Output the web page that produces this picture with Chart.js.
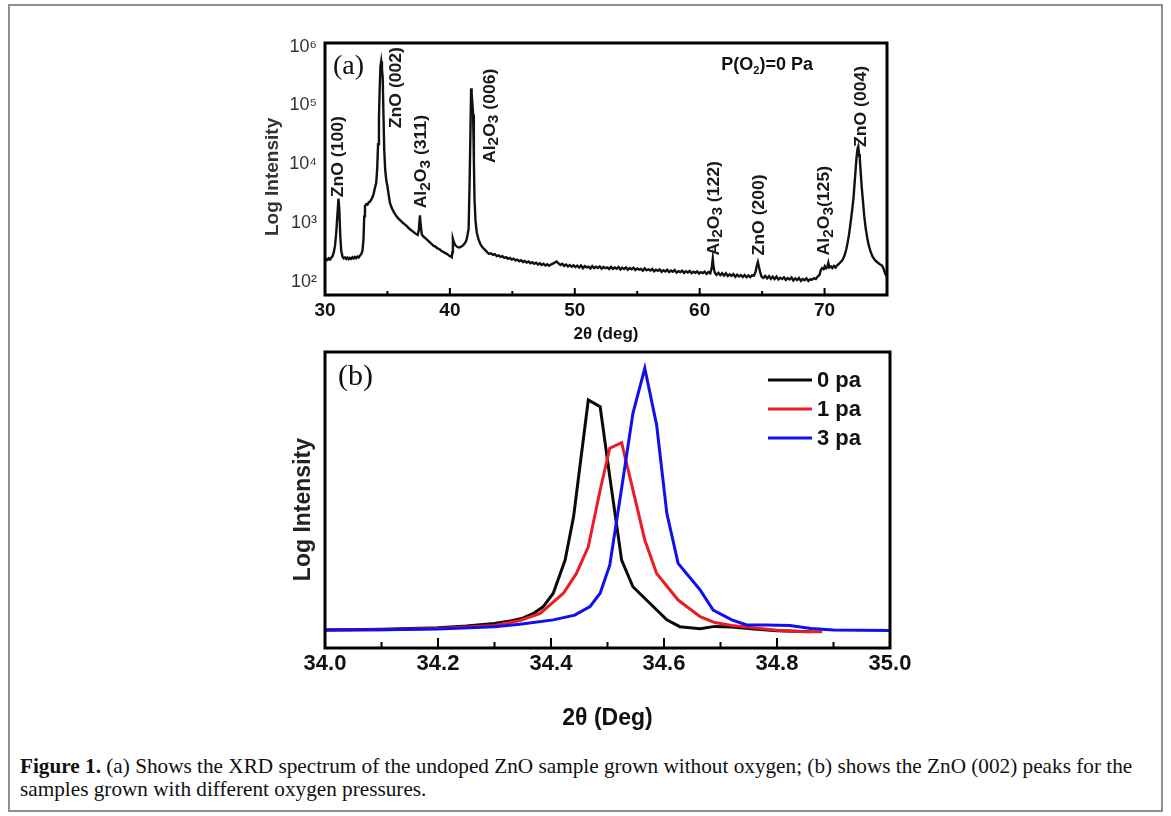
<!DOCTYPE html>
<html><head><meta charset="utf-8">
<script src="https://cdn.jsdelivr.net/npm/chart.js@4.4.1/dist/chart.umd.min.js"></script>
<style>
html,body{margin:0;padding:0;background:#fff;}
body{width:1171px;height:816px;position:relative;overflow:hidden;}
#frame{position:absolute;left:8px;top:4px;width:1155px;height:808px;border:2px solid #8f8f8f;box-sizing:border-box;}
#ca{position:absolute;left:0;top:0;width:1171px;height:347px;}
#cb{position:absolute;left:0;top:347px;width:1171px;height:387px;}
#cap{position:absolute;left:20px;top:754px;font-family:"Liberation Serif",serif;font-size:22px;line-height:23px;color:#111;white-space:nowrap;transform:scaleX(0.965);transform-origin:0 0;}
</style></head>
<body>
<div id="frame"></div>
<canvas id="ca" width="1171" height="347"></canvas>
<canvas id="cb" width="1171" height="387"></canvas>
<div id="cap"><b>Figure 1.</b> (a) Shows the XRD spectrum of the undoped ZnO sample grown without oxygen; (b) shows the ZnO (002) peaks for the<br>samples grown with different oxygen pressures.</div>
<script>
// ---------- Panel (a): XRD spectrum, P(O2)=0 Pa ----------
const twoThetaA = [
30.00,30.10,30.20,30.30,30.40,30.50,30.60,30.70,30.80,30.90,
31.00,31.08,31.15,31.22,31.30,31.40,31.50,31.60,31.70,31.80,
31.90,32.00,32.10,32.20,32.30,32.40,32.50,32.60,32.70,32.80,
32.90,33.00,33.08,33.14,33.20,33.30,33.40,33.50,33.60,33.70,
33.80,33.90,34.00,34.10,34.18,34.25,34.32,34.38,34.44,34.50,
34.56,34.62,34.67,34.74,34.82,34.90,35.00,35.10,35.20,35.35,
35.50,35.65,35.80,35.95,36.10,36.25,36.40,36.55,36.70,36.85,
37.00,37.15,37.30,37.42,37.52,37.60,37.67,37.75,37.85,37.95,
38.10,38.25,38.40,38.55,38.70,38.85,39.00,39.15,39.30,39.45,
39.60,39.75,39.90,40.05,40.15,40.20,40.24,40.32,40.45,40.60,
40.75,40.90,41.05,41.20,41.32,41.42,41.50,41.58,41.64,41.70,
41.74,41.80,41.86,41.92,41.97,42.05,42.15,42.28,42.42,42.56,
42.70,42.85,43.00,43.15,43.30,43.45,43.60,43.75,43.90,44.05,
44.20,44.35,44.50,44.65,44.80,44.95,45.10,45.25,45.40,45.55,
45.70,45.85,46.00,46.15,46.30,46.45,46.60,46.75,46.90,47.05,
47.20,47.35,47.50,47.65,47.80,47.95,48.10,48.25,48.40,48.55,
48.70,48.85,49.00,49.15,49.30,49.45,49.60,49.75,49.90,50.05,
50.20,50.35,50.50,50.65,50.80,50.95,51.10,51.25,51.40,51.55,
51.70,51.85,52.00,52.15,52.30,52.45,52.60,52.75,52.90,53.05,
53.20,53.35,53.50,53.65,53.80,53.95,54.10,54.25,54.40,54.55,
54.70,54.85,55.00,55.15,55.30,55.45,55.60,55.75,55.90,56.05,
56.20,56.35,56.50,56.65,56.80,56.95,57.10,57.25,57.40,57.55,
57.70,57.85,58.00,58.15,58.30,58.45,58.60,58.75,58.90,59.05,
59.20,59.35,59.50,59.65,59.80,59.95,60.10,60.25,60.40,60.55,
60.70,60.85,60.97,61.05,61.12,61.22,61.35,61.50,61.65,61.80,
61.95,62.10,62.25,62.40,62.55,62.70,62.85,63.00,63.15,63.30,
63.45,63.60,63.75,63.90,64.05,64.20,64.35,64.48,64.58,64.66,
64.75,64.85,64.95,65.10,65.25,65.40,65.55,65.70,65.85,66.00,
66.15,66.30,66.45,66.60,66.75,66.90,67.05,67.20,67.35,67.50,
67.65,67.80,67.95,68.10,68.25,68.40,68.55,68.70,68.85,69.00,
69.15,69.30,69.45,69.60,69.70,69.80,69.92,70.02,70.12,70.22,
70.30,70.38,70.50,70.62,70.75,70.88,71.00,71.12,71.25,71.38,
71.50,71.62,71.74,71.85,71.96,72.08,72.20,72.32,72.44,72.56,
72.64,72.70,72.76,72.82,72.90,72.98,73.08,73.18,73.30,73.42,
73.55,73.70,73.85,74.00,74.15,74.30,74.45,74.60,74.72,74.84,
74.95,75.00];
const intensityA = [
232,246,236,252,241,258,272,318,410,690,
1450,2600,1650,620,340,268,252,262,246,259,
243,256,247,262,250,266,254,270,262,281,
296,340,520,1300,1950,2100,2060,2250,2320,2500,
2750,3200,4000,4800,8500,22000,60000,200000,460000,560000,
420000,300000,90000,18000,8000,5500,4200,3000,2200,1800,
1550,1380,1250,1150,1080,1000,950,890,820,770,
730,690,650,630,780,1350,900,640,600,575,
540,505,470,440,410,398,372,362,340,326,
312,300,285,272,262,320,540,470,420,392,
384,398,418,455,510,640,800,5000,30000,195000,
160000,110000,70000,12000,2600,1100,700,540,450,400,
370,345,318,300,306,288,296,276,284,266,
274,256,264,248,256,240,248,232,240,225,
234,219,228,213,222,208,217,203,212,198,
207,194,203,190,200,188,198,205,214,222,
206,194,203,188,198,184,194,181,191,178,
189,176,191,171,186,177,182,169,186,172,
181,173,184,168,180,171,177,166,181,167,
176,168,179,163,174,166,176,161,172,164,
175,160,170,162,167,155,170,158,164,156,
166,152,161,155,163,149,158,151,161,147,
156,149,159,144,153,147,156,142,152,145,
154,141,149,143,151,139,147,141,150,137,
147,140,175,248,172,142,132,143,130,141,
128,140,126,135,127,136,122,133,124,131,
121,131,120,129,121,130,128,150,190,218,
180,145,124,117,127,115,125,113,123,112,
123,110,118,112,120,108,116,110,119,106,
115,108,117,104,112,107,115,104,111,109,
116,112,124,132,160,172,165,185,170,178,
210,176,184,172,188,176,192,200,214,228,
250,290,360,470,640,1000,1600,2700,6000,13000,
18500,20000,15000,12500,7000,4000,2300,1300,800,560,
410,320,268,240,222,210,198,190,170,142,
128,122];
const yTicksA = [1e2, 1e3, 1e4, 1e5, 1e6];
const xMajorA = [30, 40, 50, 60, 70];
const xMinorA = [35, 45, 55, 65];
const peakLabelsA = ['ZnO (100)','ZnO (002)','Al_2O_3 (311)','Al_2O_3 (006)','Al_2O_3 (122)','ZnO (200)','Al_2O_3(125)','ZnO (004)'];
const peakLabelThetaA = [31.12, 35.76, 37.77, 43.25, 61.19, 64.80, 70.02, 72.97];
const peakLabelBaseA = [2750, 41000, 1780, 10500, 282, 282, 282, 19600];

// ---------- Panel (b): ZnO (002) peaks ----------
const seriesLabelsB = ['0 pa', '1 pa', '3 pa'];
const thetaB0 = [34.00,34.10,34.20,34.25,34.30,34.33,34.35,34.37,34.386,34.404,34.425,34.44,34.466,34.487,34.504,34.525,34.545,34.569,34.605,34.628,34.664,34.69,34.72,34.76,34.80,34.86];
const intB0   = [6.1,6.3,6.8,7.4,8.3,9.2,10.1,11.8,13.9,18.5,29.7,44.4,83.8,81.5,57.9,29.7,20.7,16.2,9.5,7.2,6.5,7.3,7.1,6.4,5.8,5.5];
const thetaB1 = [34.00,34.10,34.20,34.30,34.345,34.381,34.422,34.445,34.466,34.487,34.504,34.525,34.545,34.566,34.587,34.625,34.664,34.69,34.72,34.76,34.80,34.84,34.88];
const intB1   = [6.1,6.2,6.6,7.6,9.3,11.7,18.5,25.2,34.2,53.4,67.5,69.4,53.4,36.5,25.2,16.2,10.6,8.6,7.6,6.8,6.0,5.6,5.5];
const thetaB3 = [34.00,34.10,34.20,34.30,34.345,34.404,34.442,34.469,34.487,34.504,34.525,34.545,34.566,34.587,34.605,34.625,34.664,34.687,34.72,34.746,34.78,34.823,34.86,34.90,35.00];
const intB3   = [6.1,6.2,6.4,7.2,8.0,9.5,11.1,14.0,18.5,28.0,54.0,79.3,94.5,75.3,45.5,28.6,19.6,12.8,9.5,7.8,7.8,7.6,6.6,6.1,5.9];
const colorsB = ['#0a0a0a', '#ec1c24', '#1010ee'];
const xMajorB = [34.0, 34.2, 34.4, 34.6, 34.8, 35.0];
const xMinorB = [34.1, 34.3, 34.5, 34.7, 34.9];

const SANS = '"Liberation Sans", Arial, sans-serif';
const SERIF = '"Liberation Serif", "Times New Roman", serif';
const SUP = {'0':'\u2070','1':'\u00B9','2':'\u00B2','3':'\u00B3','4':'\u2074','5':'\u2075','6':'\u2076','7':'\u2077','8':'\u2078','9':'\u2079'};

// frame + inward ticks
const framePlugin = {
  id: 'frameTicks',
  afterDraw(chart, args, opts) {
    const {ctx, chartArea: a} = chart;
    const xs = chart.scales.x;
    ctx.save();
    ctx.strokeStyle = '#000';
    ctx.lineWidth = 2;
    ctx.beginPath();
    (opts.major || []).forEach(v => { const p = xs.getPixelForValue(v); ctx.moveTo(p, a.bottom); ctx.lineTo(p, a.bottom - opts.majorLen); });
    (opts.minor || []).forEach(v => { const p = xs.getPixelForValue(v); ctx.moveTo(p, a.bottom); ctx.lineTo(p, a.bottom - opts.minorLen); });
    ctx.stroke();
    ctx.lineWidth = 3;
    ctx.strokeRect(a.left, a.top, a.right - a.left, a.bottom - a.top);
    if (opts.panel) {
      ctx.fillStyle = '#111';
      ctx.font = opts.panelFont;
      ctx.textBaseline = 'middle';
      ctx.textAlign = 'left';
      ctx.fillText(opts.panel, a.left + opts.panelDx, a.top + opts.panelDy);
    }
    ctx.restore();
  }
};

function drawRich(ctx, text, size, subSize, subShift) {
  const parts = [];
  for (let i = 0; i < text.length; i++) {
    if (text[i] === '_' && i + 1 < text.length) { parts.push({t: text[i+1], sub: true}); i++; }
    else { if (parts.length && !parts[parts.length-1].sub) parts[parts.length-1].t += text[i]; else parts.push({t: text[i], sub: false}); }
  }
  let cx = 0;
  parts.forEach(p => {
    ctx.font = 'bold ' + (p.sub ? subSize : size) + 'px ' + SANS;
    ctx.fillText(p.t, cx, p.sub ? subShift : 0);
    cx += ctx.measureText(p.t).width;
  });
}

const peakLabelPlugin = {
  id: 'peakLabels',
  afterDatasetsDraw(chart) {
    const {ctx} = chart;
    const xs = chart.scales.x, ys = chart.scales.y;
    ctx.save();
    ctx.fillStyle = '#1a1a1a';
    ctx.textBaseline = 'middle';
    ctx.textAlign = 'left';
    peakLabelsA.forEach((t, i) => {
      ctx.save();
      ctx.translate(xs.getPixelForValue(peakLabelThetaA[i]), ys.getPixelForValue(peakLabelBaseA[i]));
      ctx.rotate(-Math.PI / 2);
      ctx.scale(1.1, 1);
      drawRich(ctx, t, 16, 14, 4);
      ctx.restore();
    });
    // P(O2)=0 Pa
    ctx.save();
    ctx.translate(xs.getPixelForValue(61.73), ys.getPixelForValue(480000));
    ctx.fillStyle = '#111';
    drawRich(ctx, 'P(O_2)=0 Pa', 18, 11, 6);
    ctx.restore();
    ctx.restore();
  }
};

const legendPluginB = {
  id: 'legendB',
  afterDraw(chart) {
    const {ctx, chartArea: a} = chart;
    ctx.save();
    ctx.font = 'bold 22px ' + SANS;
    ctx.textBaseline = 'middle';
    ctx.textAlign = 'left';
    chart.data.datasets.forEach((ds, i) => {
      const y = a.top + 28 + i * 29;
      ctx.strokeStyle = ds.borderColor;
      ctx.lineWidth = 3;
      ctx.beginPath();
      ctx.moveTo(a.right - 122, y); ctx.lineTo(a.right - 78, y);
      ctx.stroke();
      ctx.fillStyle = '#111';
      ctx.fillText(ds.label, a.right - 73, y + 1);
    });
    ctx.restore();
  }
};

new Chart(document.getElementById('ca'), {
  type: 'line',
  data: { datasets: [{
    label: 'P(O2)=0 Pa',
    data: twoThetaA.map((x, i) => ({x: x, y: intensityA[i]})),
    borderColor: '#111', borderWidth: 2.4, pointRadius: 0, tension: 0, fill: false
  }]},
  options: {
    responsive: false, animation: false,
    layout: { padding: { left: 255, right: 284, top: 43, bottom: 0 } },
    plugins: {
      legend: { display: false }, tooltip: { enabled: false },
      frameTicks: { major: xMajorA, minor: xMinorA, majorLen: 7, minorLen: 4, panel: '(a)', panelFont: '28px ' + SERIF, panelDx: 8, panelDy: 24 }
    },
    scales: {
      x: {
        type: 'linear', min: 30, max: 75,
        grid: { display: false, drawTicks: false }, border: { display: false },
        ticks: { stepSize: 10, includeBounds: false, padding: 4, maxRotation: 0, color: '#111', font: { family: SANS, size: 19, weight: 'bold' } },
        title: { display: true, text: '2\u03B8 (deg)', color: '#111', font: { family: SANS, size: 17, weight: 'bold' }, padding: { top: 0, bottom: 2 } },
        afterFit(s) { s.height = 52; }
      },
      y: {
        type: 'logarithmic', min: 60, max: 1150000,
        grid: { display: false, drawTicks: false }, border: { display: false },
        afterBuildTicks(s) { s.ticks = yTicksA.map(v => ({ value: v })); },
        ticks: { autoSkip: false, padding: 8, color: '#333', font: { family: SANS, size: 18 },
          callback: v => '10' + String(Math.round(Math.log10(v))).split('').map(d => SUP[d]).join('') },
        title: { display: true, text: 'Log Intensity   ', color: '#333', font: { family: SANS, size: 19, weight: 'bold' }, padding: { top: 6, bottom: 0 } },
        afterFit(s) { s.width = 70; }
      }
    }
  },
  plugins: [framePlugin, peakLabelPlugin]
});

const thetaB = [thetaB0, thetaB1, thetaB3];
const intB = [intB0, intB1, intB3];
new Chart(document.getElementById('cb'), {
  type: 'line',
  data: { datasets: seriesLabelsB.map((lab, k) => ({
    label: lab,
    data: thetaB[k].map((x, i) => ({x: x, y: intB[k][i]})),
    borderColor: colorsB[k], borderWidth: 3, pointRadius: 0, tension: 0, fill: false,
    order: 2 - k
  }))},
  options: {
    responsive: false, animation: false,
    layout: { padding: { left: 285, right: 281, top: 5, bottom: 0 } },
    plugins: {
      legend: { display: false }, tooltip: { enabled: false },
      frameTicks: { major: xMajorB, minor: xMinorB, majorLen: 10, minorLen: 6, panel: '(b)', panelFont: '30px ' + SERIF, panelDx: 13, panelDy: 25 }
    },
    scales: {
      x: {
        type: 'linear', min: 34, max: 35,
        grid: { display: false, drawTicks: false }, border: { display: false },
        ticks: { stepSize: 0.2, padding: 3, maxRotation: 0, color: '#111', font: { family: SANS, size: 22, weight: 'bold' }, callback: v => Number(v).toFixed(1) },
        title: { display: true, text: '2\u03B8 (Deg)', color: '#111', font: { family: SANS, size: 23, weight: 'bold' }, padding: { top: 0, bottom: 2 } },
        afterFit(s) { s.height = 86; }
      },
      y: {
        type: 'linear', min: 0, max: 100,
        grid: { display: false, drawTicks: false }, border: { display: false },
        ticks: { display: false },
        title: { display: true, text: 'Log Intensity   ', color: '#222', font: { family: SANS, size: 23, weight: 'bold' }, padding: { top: 5, bottom: 0 } },
        afterFit(s) { s.width = 40; }
      }
    }
  },
  plugins: [framePlugin, legendPluginB]
});
</script>
</body></html>
